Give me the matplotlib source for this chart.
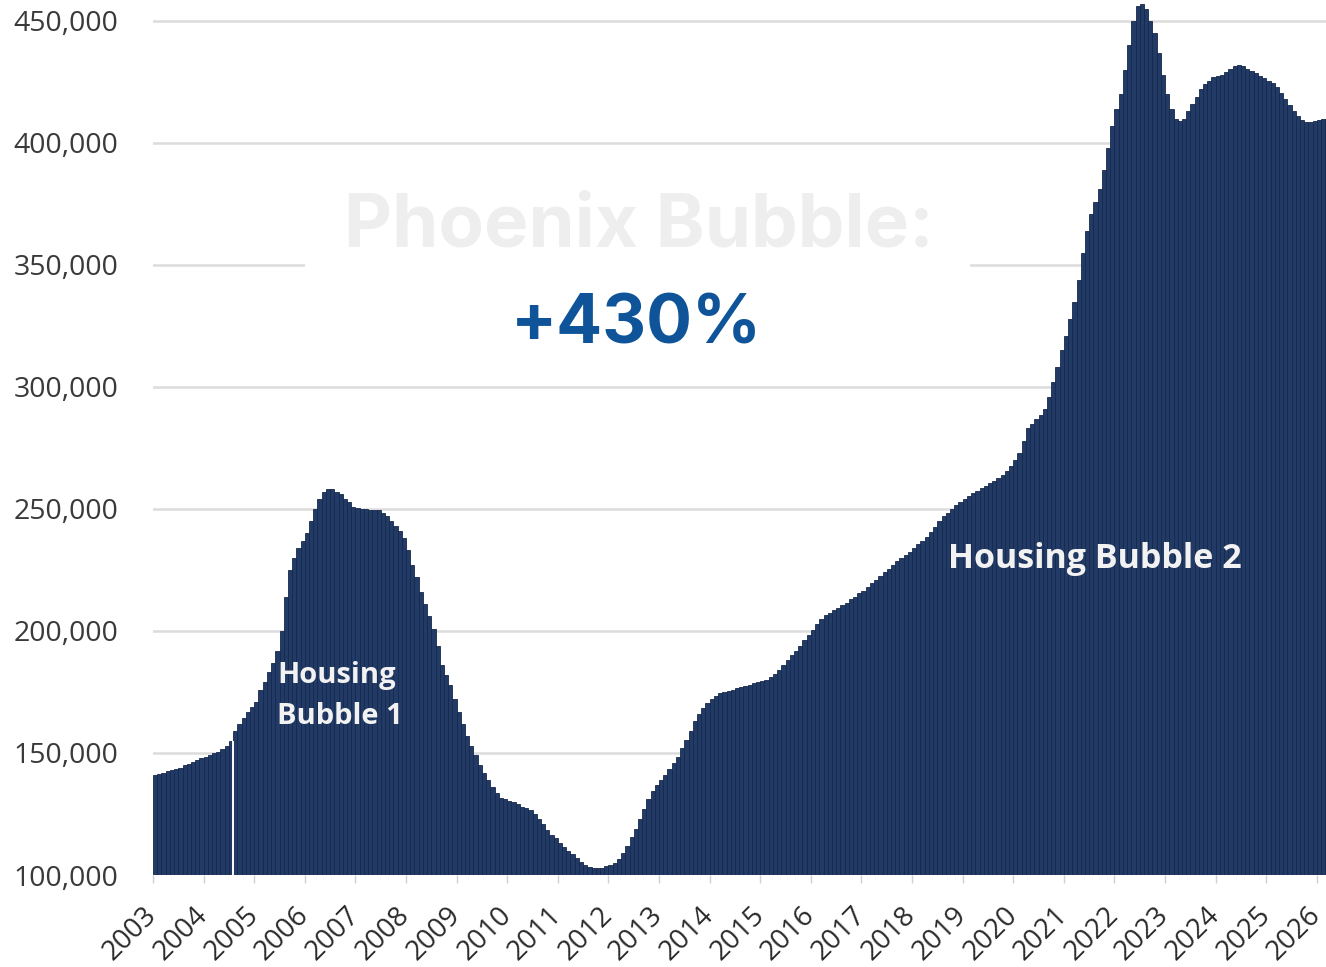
import matplotlib
matplotlib.use("Agg")
import matplotlib.pyplot as plt
import matplotlib.transforms as mtransforms
from matplotlib.patches import Rectangle
import numpy as np

# ---- data (median home price, thousands of $), monthly from Jan 2003 ----
start_year = 2003
median_price_k = [
    141, 141.5, 142, 142.5, 143, 143.5, 144, 145, 145.5, 146.5, 147, 148,            # 2003
    148.5, 149, 150, 150.5, 151.5, 153, 155, 159, 162, 164.5, 167, 169,              # 2004
    171, 176, 179, 183, 187, 192, 200, 214, 225, 230, 234, 237,                      # 2005
    240, 245, 250, 254, 257, 258, 258, 257, 256, 254, 253, 251,                      # 2006
    250.5, 250, 250, 249.5, 249.5, 249.5, 248.5, 247, 245, 243, 241, 238,            # 2007
    233, 227, 222, 216, 211, 206, 201, 194, 186, 182, 178, 172,                      # 2008
    167, 162, 157, 153, 149, 145, 142, 139, 136, 133.5, 131.5, 131,                  # 2009
    130.5, 130, 129, 128, 127.5, 126.5, 125, 123, 121, 118.5, 116.5, 115,            # 2010
    113, 111.5, 110, 108.5, 107, 105.5, 104, 103.3, 103, 103, 103, 103.5,            # 2011
    104, 105, 106.5, 109, 112, 115.5, 119, 123, 127, 131, 134.5, 137,                # 2012
    139, 141, 143.5, 146, 148.5, 152, 155.5, 159, 163, 166, 168.5, 170.5,            # 2013
    172, 173.5, 174.5, 175, 175.5, 176, 176.5, 177, 177.5, 178, 178.5, 179,          # 2014
    179.5, 180, 181, 182.5, 184, 186, 188, 190, 192, 194, 196.5, 198.5,              # 2015
    200.5, 203, 205, 206.5, 207.5, 208.5, 209.5, 210.5, 211.5, 213, 214, 215.5,      # 2016
    216.5, 218, 219.5, 221, 222.5, 224, 225.5, 227, 228.5, 230, 231, 232.5,          # 2017
    234, 235.5, 237, 238.5, 240.5, 242.5, 245, 247, 248.5, 250, 251.5, 253,          # 2018
    254, 255.5, 256.5, 257.5, 258.5, 259.5, 260.5, 261.5, 262.5, 264, 265.5, 267.5,  # 2019
    270, 273, 278, 283, 285, 287, 288.5, 291, 296, 302, 308, 315,                    # 2020
    321, 328, 335, 344, 355, 364, 371, 376, 381, 389, 398, 407,                      # 2021
    414, 420, 430, 440, 450, 456, 457, 455, 450, 445, 437, 428,                      # 2022
    420, 414, 410, 409, 410, 413, 416, 419, 422, 424, 425.5, 427,                    # 2023
    427.5, 428, 429, 430.5, 431.5, 432, 431.5, 430.5, 429.5, 428.5, 427.5, 426.5,    # 2024
    425.5, 424.5, 423, 420.5, 418, 415.5, 413, 411, 409.5, 408.5, 408.5, 409,        # 2025
    409.5, 410, 410,                                                                 # 2026
]
tick_years = list(range(2003, 2027))
y_ticks = [100000, 150000, 200000, 250000, 300000, 350000, 400000, 450000]
title_text = "Phoenix Bubble:"
change_text = "+430%"
label_bubble1 = "Housing\nBubble 1"
label_bubble2 = "Housing Bubble 2"
gap_month_index = 19  # visible white seam in the source chart (Aug 2004)

# ---- figure ----
W, H = 1326, 967
fig = plt.figure(figsize=(W / 100, H / 100), dpi=100)
ax = fig.add_axes([153 / W, (H - 875) / H, 1173 / W, 875 / H])

values = np.array(median_price_k) * 1000
xpos = start_year + np.arange(len(values)) / 12.0

navy = "#213a66"
ax.bar(xpos, values - 100000, bottom=100000, width=1 / 12, align="edge",
       color=navy, edgecolor="#16284a", linewidth=0.6, zorder=3)

# white seam
gx = xpos[gap_month_index]
ax.vlines(gx, 100000, min(values[gap_month_index - 1], values[gap_month_index]),
          color="white", linewidth=1.4, zorder=4)

ax.set_xlim(start_year, 2026.18)
ax.set_ylim(100000, 458600)

for s in ax.spines.values():
    s.set_visible(False)

ax.set_yticks(y_ticks)
ax.set_yticklabels([f"{v:,}" for v in y_ticks], family="Open Sans",
                   fontsize=20.5, color="#3a3a3a")
ax.tick_params(axis="y", length=0, pad=25)
ax.yaxis.grid(True, color="#dcdcdc", linewidth=1.8, zorder=0)
ax.set_axisbelow(True)

ax.set_xticks(tick_years)
ax.set_xticklabels([str(y) for y in tick_years], family="Open Sans",
                   fontsize=20, color="#2a2a2a", rotation=45, ha="right",
                   va="top", rotation_mode="anchor")
ax.tick_params(axis="x", length=6, width=1, color="#d0d0d0", pad=13)
shift = mtransforms.ScaledTranslation(-10 / 100, 0, fig.dpi_scale_trans)
for lbl in ax.get_xticklabels():
    lbl.set_transform(lbl.get_transform() + shift)

# white panel behind title (breaks the gridline)
ax.add_patch(Rectangle(((305 - 153) / 1173, 0.577), (970 - 305) / 1173, 0.24,
                       transform=ax.transAxes, facecolor="white",
                       edgecolor="none", zorder=2))

ax.text(0.414, 0.741, title_text, transform=ax.transAxes, ha="center",
        va="center", family="Inter", weight="bold", fontsize=53.5,
        color="#eeeeee", zorder=5)
ax.text(0.412, 0.628, change_text, transform=ax.transAxes, ha="center",
        va="center", family="Inter", weight="bold", fontsize=49,
        color="#0f5499", zorder=5)

ax.text(2005.45, 173400, label_bubble1, ha="left", va="center",
        family="Open Sans", weight="bold", fontsize=21, color="#f2f2f2",
        linespacing=1.55, zorder=5)
ax.text(2018.72, 229500, label_bubble2, ha="left", va="center",
        family="Open Sans", weight="bold", fontsize=24.5, color="#f2f2f2",
        zorder=5)

fig.savefig("out.png", dpi=100, facecolor="white")
